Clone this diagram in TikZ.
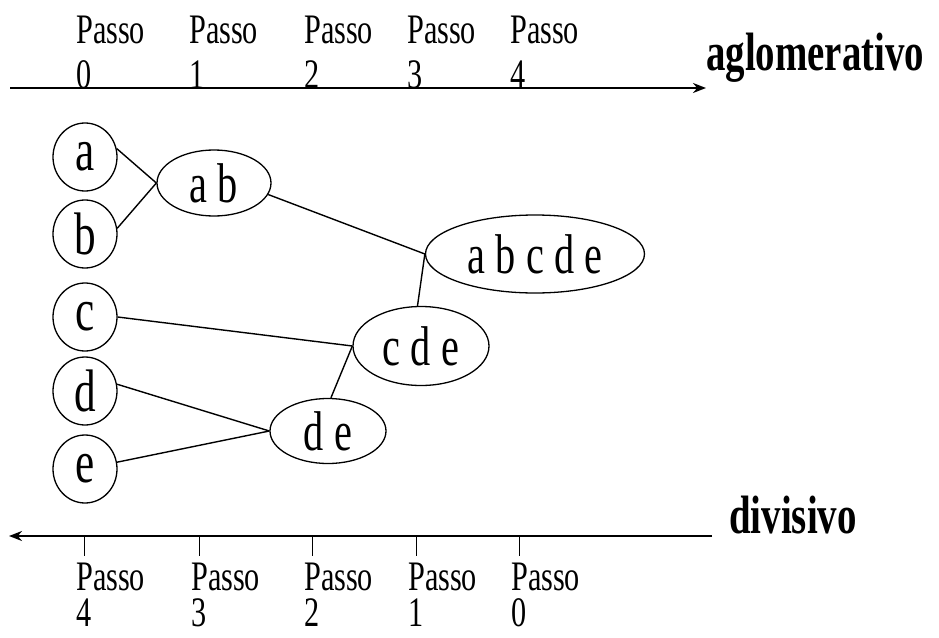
\documentclass[tikz,border=0pt]{standalone}
\usepackage{fontspec}
\setmainfont{Liberation Serif}[FakeStretch=0.72]
\usetikzlibrary{shapes.geometric,arrows.meta}
\begin{document}
\begin{tikzpicture}[x=1pt,y=-1pt,
  leaf/.style={ellipse,draw,line width=1.3pt,inner sep=0pt,minimum width=64pt,minimum height=68pt,font=\fontsize{60}{60}\selectfont},
  group/.style={ellipse,draw,line width=1.3pt,inner sep=0pt,font=\fontsize{56}{56}\selectfont},
  link/.style={line width=1.4pt},
  axis/.style={line width=2.4pt,-{Stealth[length=13pt,width=10pt]}},
  tick/.style={line width=1pt},
  steplabel/.style={anchor=base west,inner sep=0pt,font=\fontsize{42}{42}\selectfont},
  stepnum/.style={anchor=base,inner sep=0pt,font=\fontsize{42}{42}\selectfont},
  dirlabel/.style={anchor=base west,inner sep=0pt,font=\bfseries\fontsize{54}{54}\selectfont}]
\useasboundingbox (0,0) rectangle (939,637);
% top axis
\coordinate (t0) at (10,88);
\coordinate (t1) at (706,88);
\draw[axis] (t0) -- (t1);
\node[dirlabel] (aglo) at (706,70) {aglomerativo};
\foreach \x/\n [count=\i] in {84/0,197/1,312/2,415/3,518/4}{
  \node[steplabel] (tp\i) at (\x-8,43) {Passo};
  \node[stepnum] (tn\i) at (\x,88) {\n};
}
% bottom axis
\coordinate (b0) at (712,536);
\coordinate (b1) at (9,536);
\draw[axis] (b0) -- (b1);
\node[dirlabel] (divi) at (729,533) {divisivo};
\foreach \x/\n [count=\i] in {84/4,199/3,312/2,416/1,519/0}{
  \coordinate (tk\i) at (\x,536);
  \coordinate (tke\i) at (\x,556);
  \draw[tick] (tk\i) -- (tke\i);
  \node[steplabel] (bp\i) at (\x-8,590) {Passo};
  \node[stepnum] (bn\i) at (\x,626) {\n};
}
% leaves
\node[leaf] (a) at (85,157) {a};
\node[leaf] (b) at (85,234) {b};
\node[leaf] (c) at (85,317) {c};
\node[leaf] (d) at (85,391) {d};
\node[leaf] (e) at (85,469) {e};
% clusters
\node[group,minimum width=114pt,minimum height=66pt] (ab) at (214,183) {a b};
\node[group,minimum width=219pt,minimum height=78pt] (abcde) at (535,254) {a b c d e};
\node[group,minimum width=136pt,minimum height=79pt] (cde) at (421,346) {c d e};
\node[group,minimum width=116pt,minimum height=65pt] (de) at (328,431) {d e};
% links
\draw[link] (a.15) -- (ab.west);
\draw[link] (b.10) -- (ab.west);
\draw[link] (ab.-12) -- (abcde.west);
\draw[link] (abcde.west) -- (cde.95);
\draw[link] (c.east) -- (cde.west);
\draw[link] (de.85) -- (cde.west);
\draw[link] (d.12) -- (de.west);
\draw[link] (e.12) -- (de.west);
\end{tikzpicture}
\end{document}
